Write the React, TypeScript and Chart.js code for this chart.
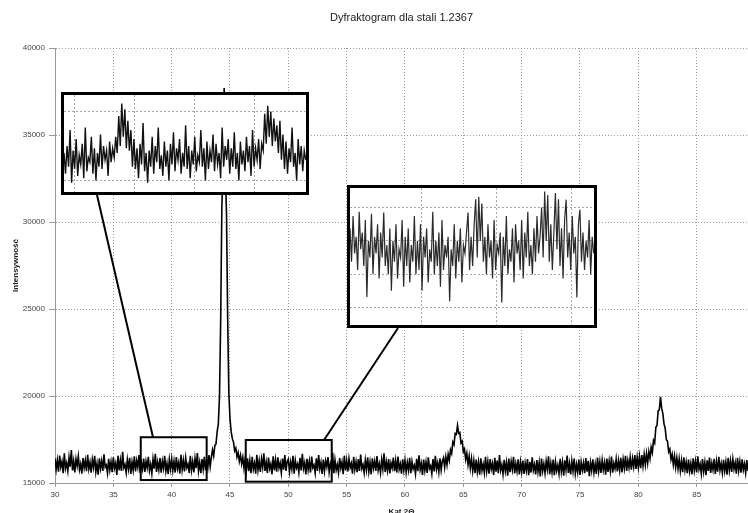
import React, { useEffect, useRef } from 'react';
import { Chart, registerables } from 'chart.js';

Chart.register(...registerables);

// ---------- text ----------
const TITLE = 'Dyfraktogram dla stali 1.2367';
const X_TITLE = 'Kąt 2Θ';
const Y_TITLE = 'Intensywność';

// ---------- main diffractogram (2θ grid: 30.0 .. 89.4, step 0.1) ----------
const X_START = 30.0;
const X_STEP = 0.1;

const I_30_40 = [
  16420, 15780, 16310, 15650, 16580, 15920, 16240, 15560, 16710, 15840,
  16150, 15690, 16480, 15930, 16890, 15720, 16260, 15610, 16380, 15980,
  16530, 15760, 16090, 15540, 16440, 15870, 16300, 15680, 16620, 15810,
  16190, 15590, 16350, 15900, 16560, 15640, 16120, 15480, 16410, 15830,
  16270, 15700, 16650, 15910, 16030, 15570, 16390, 15760, 16220, 15620,
  16480, 15850, 16140, 15460, 16570, 15730, 16310, 15690, 16790, 15880,
  16060, 15600, 16340, 15810, 16450, 15520, 16200, 15740, 16530, 15660,
  16280, 15900, 16610, 15580, 16150, 15790, 16400, 15630, 16240, 15870,
  16500, 15710, 16080, 15550, 16370, 15820, 16680, 15640, 16190, 15760,
  16430, 15590, 16260, 15850, 16560, 15680, 16120, 15510, 16350, 15800,
];
const I_40_50 = [
  16380, 15720, 16250, 15600, 16490, 15830, 16170, 15540, 16620, 15770,
  16300, 15660, 16450, 15890, 16090, 15580, 16560, 15740, 16230, 15610,
  16410, 15850, 16720, 15690, 16180, 15560, 16380, 15800, 16510, 15720,
  16340, 15880, 16600, 15940, 16470, 16900, 16550, 17150, 17250, 17950,
  18400, 20000, 24300, 30800, 33200, 37700, 33000, 30500, 24500, 20200,
  18700, 17950, 17550, 17350, 16850, 17000, 16500, 16750, 16250, 16600,
  16100, 16480, 15850, 16380, 15760, 16420, 15680, 16290, 15570, 16510,
  15800, 16140, 15530, 16620, 15750, 16270, 15640, 16380, 15900, 16710,
  15690, 16200, 15580, 16460, 15820, 16090, 15500, 16540, 15730, 16330,
  15650, 16480, 15860, 16150, 15590, 16400, 15770, 16600, 15690, 16240,
];
const I_50_60 = [
  16370, 15650, 16210, 15790, 16560, 15540, 16300, 15870, 16090, 15610,
  16450, 15720, 16680, 15830, 16160, 15490, 16390, 15760, 16250, 15600,
  16520, 15880, 16030, 15570, 16420, 15700, 16610, 15810, 16180, 15520,
  16350, 15690, 16270, 15920, 16490, 15630, 16110, 15780, 16730, 15560,
  16320, 15740, 16060, 15600, 16440, 15850, 16200, 15510, 16570, 15720,
  16290, 15660, 16400, 15890, 16130, 15540, 16500, 15770, 16220, 15620,
  16380, 15700, 16640, 15830, 16050, 15580, 16310, 15760, 16470, 15650,
  16190, 15500, 16420, 15860, 16260, 15690, 16550, 15740, 16100, 15590,
  16340, 15810, 16700, 15630, 16210, 15720, 16380, 15550, 16150, 15870,
  16460, 15680, 16280, 15600, 16520, 15790, 16090, 15530, 16360, 15740,
];
const I_60_70 = [
  16310, 15620, 16180, 15740, 16450, 15560, 16230, 15810, 16020, 15530,
  16390, 15680, 16590, 15770, 16120, 15470, 16340, 15720, 16200, 15580,
  16470, 15830, 15990, 15540, 16380, 15660, 16560, 15790, 16150, 15620,
  16420, 15750, 16260, 16450, 15900, 16500, 16050, 16650, 16300, 16900,
  16700, 17350, 17200, 17850, 17800, 18300, 17850, 17900, 17300, 17400,
  16800, 16950, 16350, 16700, 16050, 16550, 15850, 16400, 15700, 16280,
  15560, 16350, 15640, 16190, 15480, 16420, 15720, 16080, 15590, 16500,
  15680, 16230, 15540, 16370, 15800, 16130, 15460, 16450, 15650, 16290,
  15570, 16600, 15740, 16050, 15510, 16330, 15690, 16180, 15420, 16400,
  15620, 16240, 15780, 16510, 15550, 16110, 15680, 16360, 15490, 16200,
];
const I_70_80 = [
  15640, 16290, 15520, 16150, 15710, 16380, 15450, 16210, 15600, 16470,
  15730, 16060, 15490, 16320, 15640, 16180, 15380, 16410, 15690, 16100,
  15560, 16260, 15780, 16530, 15500, 16140, 15620, 16350, 15450, 16220,
  15700, 16030, 15530, 16390, 15660, 16190, 15420, 16300, 15750, 16580,
  15580, 16120, 15490, 16270, 15690, 16400, 15540, 16070, 15620, 16340,
  15470, 16210, 15730, 16150, 15560, 16440, 15650, 16280, 15390, 16180,
  15710, 16360, 15600, 16090, 15520, 16460, 15680, 16230, 15580, 16310,
  15750, 16170, 15480, 16400, 15640, 16260, 15700, 16520, 15590, 16130,
  15820, 16380, 15660, 16290, 15740, 16450, 15610, 16350, 15850, 16560,
  15700, 16300, 15880, 16480, 15760, 16400, 15930, 16600, 15810, 16470,
];
const I_80_89 = [
  15900, 16520, 15850, 16610, 15980, 16650, 16050, 16700, 16150, 16800,
  16400, 17050, 16750, 17450, 17300, 18200, 18300, 19150, 19200, 19950,
  19300, 19000, 18400, 18150, 17500, 17400, 16800, 16950, 16350, 16650,
  16050, 16550, 15900, 16450, 15820, 16380, 15700, 16290, 15620, 16470,
  15750, 16200, 15560, 16350, 15680, 16130, 15500, 16420, 15730, 16250,
  15610, 16540, 15790, 16080, 15530, 16370, 15660, 16190, 15450, 16300,
  15700, 16460, 15580, 16150, 15760, 16390, 15520, 16240, 15650, 16500,
  15740, 16120, 15590, 16330, 15690, 16210, 15480, 16440, 15720, 16280,
  15630, 16380, 15800, 16170, 15540, 16450, 15710, 16230, 15600, 16360,
  15750, 16100, 15580, 16320, 15690,
];

const X_MIN = 30;
const X_MAX = 89.4;
const Y_MIN = 15000;
const Y_MAX = 40000;
const X_TICKS = [30, 35, 40, 45, 50, 55, 60, 65, 70, 75, 80, 85];
const Y_TICKS = [15000, 20000, 25000, 30000, 35000, 40000];

// ---------- zoomed regions (main chart data units) ----------
const ZOOM_1 = { xMin: 37.35, xMax: 43.0, yMin: 15170, yMax: 17630, linkX: 38.4 };
const ZOOM_2 = { xMin: 46.35, xMax: 53.72, yMin: 15075, yMax: 17470, linkX: 53.06 };

// ---------- inset 1 trace (37.35 .. 43.0) ----------
const INSET1_START = 37.35;
const INSET1_STEP = 0.0355;
const INSET1_VALUES = [
  16200, 15300, 16500, 15600, 17200, 14900, 16300, 15500, 16800, 15200,
  16100, 15700, 16600, 15100, 17300, 15400, 16000, 15800, 16900, 15300,
  16400, 15000, 16200, 15600, 17000, 15500, 16500, 15900, 16300, 15200,
  16700, 15800, 16400, 16000, 16900, 16200, 17800, 16500, 18350, 16900,
  18100, 16400, 17600, 16300, 17200, 15600, 16800, 15500, 16400, 15100,
  16600, 15700, 17500, 15400, 16200, 14900, 16300, 15600, 16900, 15300,
  16500, 15800, 17300, 15500, 16100, 15200, 16700, 15600, 16300, 15000,
  16600, 15700, 17100, 15400, 16400, 15900, 16800, 15300, 16200, 15600,
  17400, 15500, 16500, 15100, 16300, 15700, 16900, 15400, 16100, 15800,
  17200, 15600, 16400, 15000, 16700, 15500, 16300, 15800, 17000, 15400,
  16600, 15700, 16200, 15100, 17300, 15600, 16500, 15900, 16800, 15300,
  16400, 15600, 17100, 15500, 16200, 15000, 16700, 15700, 16300, 15400,
  16900, 15800, 16500, 15200, 17200, 15600, 16400, 15900, 16800, 15500,
  16600, 16300, 17900, 16600, 18250, 16900, 18000, 16500, 17700, 16700,
  17400, 16200, 17600, 15900, 17000, 15500, 16700, 15300, 16400, 15800,
  17300, 15600, 16200, 15000, 16800, 15700, 16500, 15400, 16300, 15900,
];
const INSET1_X_GRID = [37.6, 39.0, 40.4, 41.8];
const INSET1_Y_GRID = [15000, 18000];
const INSET1_Y_RANGE = [14500, 18720];

// ---------- inset 2 trace (46.35 .. 53.72) ----------
const INSET2_START = 46.35;
const INSET2_STEP = 0.0463;
const INSET2_VALUES = [
  16500, 15700, 16800, 15900, 16300, 15500, 16900, 16000, 16400, 15600,
  16700, 14850, 16200, 15800, 16850, 15400, 16300, 15900, 16600, 15300,
  16400, 15800, 16880, 15600, 16100, 15400, 16500, 15000, 16200, 15700,
  16600, 15300, 16000, 15800, 16700, 15100, 16300, 15600, 16500, 15200,
  16100, 15700, 16800, 15400, 16200, 15500, 16600, 15000, 16300, 15800,
  16500, 15200, 16000, 15700, 16900, 15400, 16200, 15600, 16400, 15100,
  16700, 15500, 16100, 15800, 16300, 14750, 16000, 15600, 16600, 15300,
  16200, 15700, 16500, 15200, 16100, 15900, 16400, 16880, 15500, 16300,
  15600, 16600, 17200, 15800, 17260, 16200, 17100, 15700, 16300, 15400,
  16600, 15800, 16200, 15300, 16700, 15500, 16100, 15900, 16400, 14720,
  16300, 15600, 16800, 15400, 16000, 15700, 16500, 15200, 16600, 15900,
  16200, 15500, 16700, 15300, 16400, 15800, 16900, 15600, 16100, 15400,
  16500, 15700, 16800, 15900, 16300, 17000, 15800, 17385, 16200, 17300,
  15700, 16600, 15500, 16400, 17350, 16000, 17200, 15600, 16500, 15300,
  16700, 17190, 15800, 16400, 15500, 16800, 15900, 16300, 14840, 16600,
  16950, 15700, 16400, 15500, 16200, 15800, 16700, 15400, 16300, 15900,
];
const INSET2_X_GRID = [48.52, 50.78, 53.05];
const INSET2_Y_GRID = [14600, 15400, 16200, 17000];
const INSET2_Y_RANGE = [14180, 17470];

// ---------- layout ----------
const W = 748;
const H = 513;
const CANVAS_H = 522;
const FONT = "'Liberation Sans', Arial, sans-serif";
const INSET1_BOX = { left: 61, top: 92, width: 248, height: 103 };
const INSET2_BOX = { left: 347, top: 185, width: 250, height: 143 };
const BORDER = 3;
const LINK1_FROM = { x: 97, y: 195 };
const LINK2_FROM = { x: 398, y: 328 };

const toPoints = (vals: number[], start: number, step: number) =>
  vals.map((v, i) => ({ x: +(start + i * step).toFixed(4), y: v }));

const zoomMarkers = {
  id: 'zoomMarkers',
  afterDatasetsDraw(chart: any) {
    const { ctx, scales } = chart;
    const xs = scales.x;
    const ys = scales.y;
    ctx.save();
    ctx.strokeStyle = '#000';
    ctx.lineWidth = 2;
    const items = [
      { z: ZOOM_1, from: LINK1_FROM },
      { z: ZOOM_2, from: LINK2_FROM },
    ];
    for (const { z, from } of items) {
      const l = xs.getPixelForValue(z.xMin);
      const r = xs.getPixelForValue(z.xMax);
      const t = ys.getPixelForValue(z.yMax);
      const b = ys.getPixelForValue(z.yMin);
      ctx.strokeRect(l, t, r - l, b - t);
      ctx.beginPath();
      ctx.moveTo(from.x, from.y);
      ctx.lineTo(xs.getPixelForValue(z.linkX), t);
      ctx.stroke();
    }
    ctx.restore();
  },
};

function MainChart() {
  const ref = useRef<HTMLCanvasElement>(null);
  useEffect(() => {
    const values = [...I_30_40, ...I_40_50, ...I_50_60, ...I_60_70, ...I_70_80, ...I_80_89];
    const chart = new Chart(ref.current as HTMLCanvasElement, {
      type: 'line',
      data: {
        datasets: [
          {
            data: toPoints(values, X_START, X_STEP),
            borderColor: '#000',
            borderWidth: 1.6,
            pointRadius: 0,
            tension: 0,
            fill: false,
          },
        ],
      },
      options: {
        animation: false,
        responsive: false,
        events: [],
        layout: { padding: 0 },
        plugins: {
          legend: { display: false },
          tooltip: { enabled: false },
          title: {
            display: true,
            text: TITLE,
            fullSize: false,
            color: '#222',
            font: { family: FONT, size: 11, weight: 'normal' },
            padding: { top: 11, bottom: 23.8 },
          },
        },
        scales: {
          x: {
            type: 'linear',
            min: X_MIN,
            max: X_MAX,
            afterBuildTicks: (s: any) => {
              s.ticks = X_TICKS.map((v) => ({ value: v }));
            },
            afterFit: (s: any) => {
              s.height = 39;
            },
            ticks: {
              color: '#444',
              font: { family: FONT, size: 8 },
              padding: 3,
              maxRotation: 0,
              autoSkip: false,
              callback: (v: any) => String(v),
            },
            grid: { color: '#9a9a9a', lineWidth: 1, tickLength: 4 },
            border: { display: true, color: '#999', width: 1, dash: [1, 2] },
            title: {
              display: true,
              text: X_TITLE,
              color: '#222',
              font: { family: FONT, size: 8, weight: 'bold' },
              padding: { top: 0, bottom: 5.2 },
            },
          },
          y: {
            type: 'linear',
            min: Y_MIN,
            max: Y_MAX,
            afterBuildTicks: (s: any) => {
              s.ticks = Y_TICKS.map((v) => ({ value: v }));
            },
            afterFit: (s: any) => {
              s.width = 55;
            },
            ticks: {
              color: '#444',
              font: { family: FONT, size: 8 },
              padding: 4,
              callback: (v: any) => String(v),
            },
            grid: { color: '#9a9a9a', lineWidth: 1, tickLength: 6 },
            border: { display: true, color: '#999', width: 1, dash: [1, 2] },
            title: {
              display: true,
              text: Y_TITLE,
              color: '#222',
              font: { family: FONT, size: 8, weight: 'bold' },
              padding: { top: 11.2, bottom: 0 },
            },
          },
        },
      } as any,
      plugins: [zoomMarkers],
    });
    return () => chart.destroy();
  }, []);
  return (
    <canvas
      ref={ref}
      width={W}
      height={CANVAS_H}
      style={{ position: 'absolute', left: 0, top: 0, display: 'block' }}
    />
  );
}

type InsetProps = {
  values: number[];
  start: number;
  step: number;
  xMin: number;
  xMax: number;
  yRange: number[];
  xGrid: number[];
  yGrid: number[];
  box: { left: number; top: number; width: number; height: number };
  lineColor: string;
  lineWidth: number;
};

function Inset({ values, start, step, xMin, xMax, yRange, xGrid, yGrid, box, lineColor, lineWidth }: InsetProps) {
  const ref = useRef<HTMLCanvasElement>(null);
  useEffect(() => {
    const gridOpts = { color: '#a8a8a8', lineWidth: 1, drawTicks: false };
    const chart = new Chart(ref.current as HTMLCanvasElement, {
      type: 'line',
      data: {
        datasets: [
          {
            data: toPoints(values, start, step),
            borderColor: lineColor,
            borderWidth: lineWidth,
            pointRadius: 0,
            tension: 0,
            fill: false,
          },
        ],
      },
      options: {
        animation: false,
        responsive: false,
        events: [],
        layout: { padding: 0 },
        plugins: { legend: { display: false }, tooltip: { enabled: false }, title: { display: false } },
        scales: {
          x: {
            type: 'linear',
            min: xMin,
            max: xMax,
            afterBuildTicks: (s: any) => {
              s.ticks = xGrid.map((v) => ({ value: v }));
            },
            afterFit: (s: any) => {
              s.height = 0;
            },
            ticks: { display: false },
            grid: gridOpts,
            border: { display: false, dash: [2, 2] },
          },
          y: {
            type: 'linear',
            min: yRange[0],
            max: yRange[1],
            afterBuildTicks: (s: any) => {
              s.ticks = yGrid.map((v) => ({ value: v }));
            },
            afterFit: (s: any) => {
              s.width = 0;
            },
            ticks: { display: false },
            grid: gridOpts,
            border: { display: false, dash: [2, 2] },
          },
        },
      } as any,
    });
    return () => chart.destroy();
  }, []);
  return (
    <div
      style={{
        position: 'absolute',
        left: box.left,
        top: box.top,
        width: box.width,
        height: box.height,
        border: `${BORDER}px solid #000`,
        boxSizing: 'border-box',
        background: '#fff',
      }}
    >
      <canvas
        ref={ref}
        width={box.width - 2 * BORDER}
        height={box.height - 2 * BORDER}
        style={{ display: 'block' }}
      />
    </div>
  );
}

export default function App() {
  return (
    <div
      style={{
        position: 'fixed',
        left: 0,
        top: 0,
        width: W,
        height: H,
        overflow: 'hidden',
        background: '#fff',
      }}
    >
      <MainChart />
      <Inset
        values={INSET1_VALUES}
        start={INSET1_START}
        step={INSET1_STEP}
        xMin={ZOOM_1.xMin}
        xMax={ZOOM_1.xMax}
        yRange={INSET1_Y_RANGE}
        xGrid={INSET1_X_GRID}
        yGrid={INSET1_Y_GRID}
        box={INSET1_BOX}
        lineColor="#111"
        lineWidth={1.4}
      />
      <Inset
        values={INSET2_VALUES}
        start={INSET2_START}
        step={INSET2_STEP}
        xMin={ZOOM_2.xMin}
        xMax={ZOOM_2.xMax}
        yRange={INSET2_Y_RANGE}
        xGrid={INSET2_X_GRID}
        yGrid={INSET2_Y_GRID}
        box={INSET2_BOX}
        lineColor="#2a2a2a"
        lineWidth={1.2}
      />
    </div>
  );
}
